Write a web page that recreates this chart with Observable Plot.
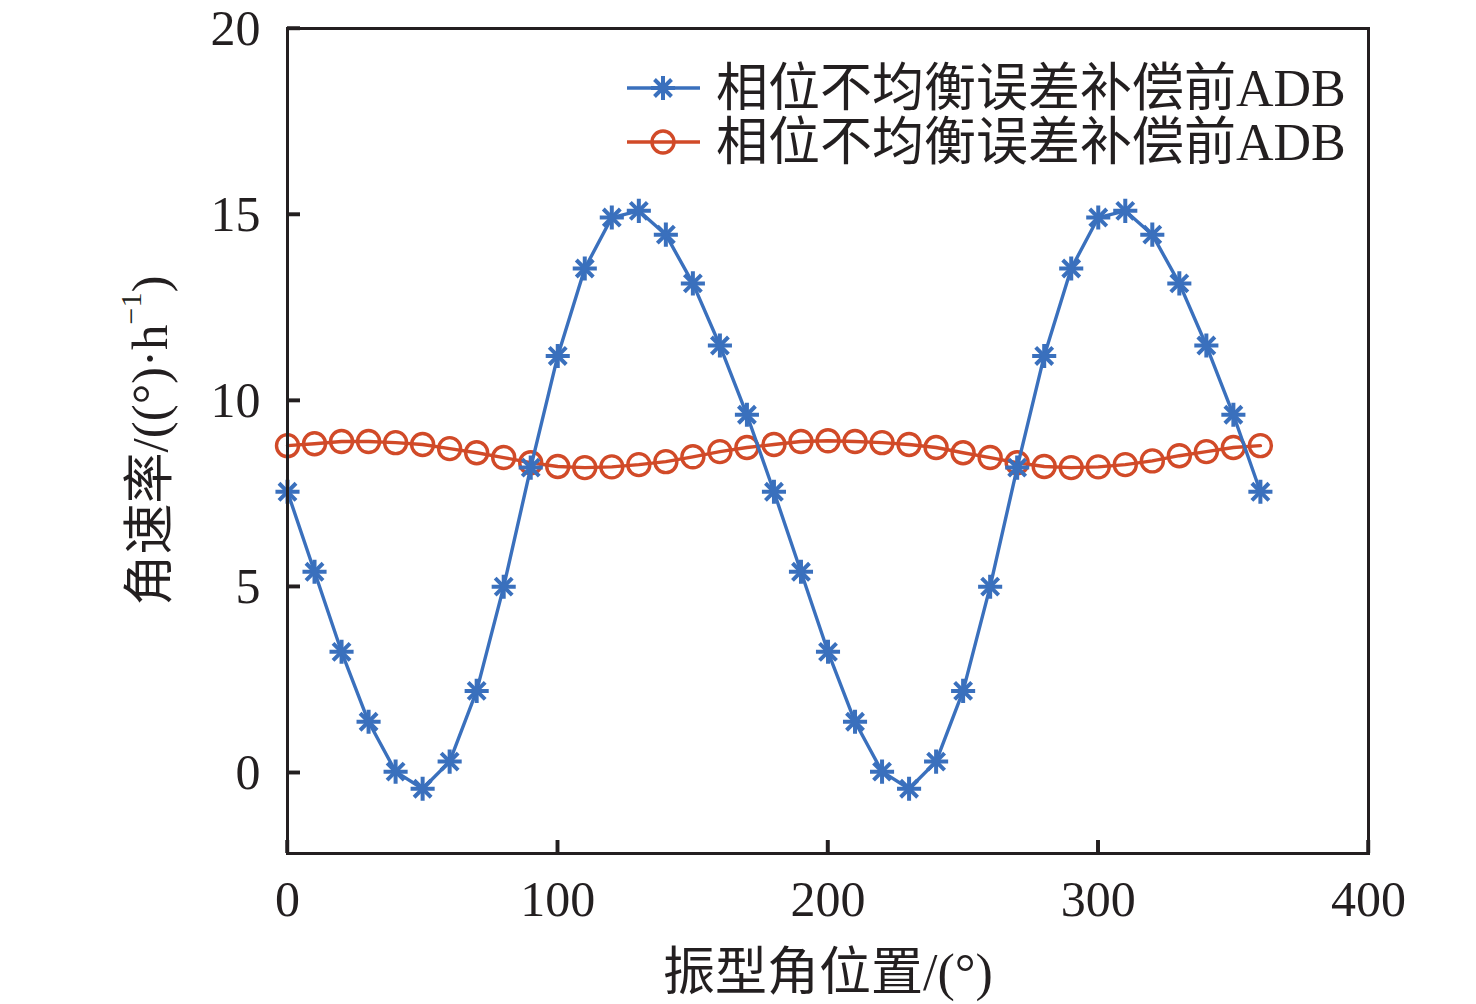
<!DOCTYPE html>
<html>
<head>
<meta charset="utf-8">
<script src="https://cdn.jsdelivr.net/npm/d3@7"></script>
<script src="https://cdn.jsdelivr.net/npm/@observablehq/plot@0.6"></script>
<style>
  html, body { margin: 0; padding: 0; background: #fff; }
  #chart { position: relative; width: 1476px; height: 1004px; }
</style>
</head>
<body>
<div id="chart"></div>
<script>
// ---- data ----
const angles = d3.range(0, 361, 10); // 振型角位置 (°)
const seriesBefore = [7.55, 5.4, 3.25, 1.37, 0.03, -0.43, 0.3, 2.2, 5.0, 8.2,
  11.2, 13.55, 14.92, 15.1, 14.46, 13.15, 11.48, 9.62, 7.55, 5.4,
  3.25, 1.37, 0.03, -0.43, 0.3, 2.2, 5.0, 8.2, 11.2, 13.55,
  14.92, 15.1, 14.46, 13.15, 11.48, 9.62, 7.55];
const seriesAfter = [8.79, 8.84, 8.9, 8.9, 8.87, 8.82, 8.71, 8.6, 8.47, 8.33,
  8.23, 8.2, 8.22, 8.28, 8.36, 8.49, 8.63, 8.74, 8.82, 8.9,
  8.92, 8.9, 8.87, 8.82, 8.74, 8.6, 8.47, 8.33, 8.23, 8.2,
  8.22, 8.28, 8.38, 8.52, 8.63, 8.74, 8.79];
const legendLabels = ["相位不均衡误差补偿前ADB", "相位不均衡误差补偿前ADB"];
const xTicks = [0, 100, 200, 300, 400];
const yTicks = [0, 5, 10, 15, 20];
const xLabel = "振型角位置/(°)";

const blue = "#3a70bd";
const red = "#d14a28";
const ink = "#231f20";

const dataBefore = angles.map((a, i) => ({x: a, y: seriesBefore[i]}));
const dataAfter = angles.map((a, i) => ({x: a, y: seriesAfter[i]}));

const fontFamily = '"Liberation Serif", "Noto Sans CJK SC", serif';
const W = 1476, H = 1004;
const mTop = 28, mBottom = 151, mLeft = 287, mRight = 108;
const xDomain = [0, 400], yDomain = [-2.17, 20];
const tickLen = 13;
// tick length expressed in data units so the rules go through Plot's scales
const yPerPx = (yDomain[1] - yDomain[0]) / (H - mTop - mBottom);
const xPerPx = (xDomain[1] - xDomain[0]) / (W - mLeft - mRight);

const chart = Plot.plot({
  width: W,
  height: H,
  marginLeft: mLeft,
  marginRight: mRight,
  marginTop: mTop,
  marginBottom: mBottom,
  style: {fontFamily, fontSize: "50px", color: ink, background: "#fff"},
  x: {domain: xDomain},
  y: {domain: yDomain},
  marks: [
    Plot.line(dataAfter, {x: "x", y: "y", stroke: red, strokeWidth: 3.4}),
    Plot.dot(dataAfter, {x: "x", y: "y", r: 11, stroke: red, strokeWidth: 3.4, fill: "none"}),
    Plot.line(dataBefore, {x: "x", y: "y", stroke: blue, strokeWidth: 3.4}),
    Plot.dot(dataBefore, {x: "x", y: "y", r: 7.8, symbol: "plus", stroke: blue, strokeWidth: 4}),
    Plot.dot(dataBefore, {x: "x", y: "y", r: 7.8, symbol: "times", stroke: blue, strokeWidth: 4}),
    Plot.frame({stroke: ink, strokeWidth: 3}),
    // inward tick marks
    Plot.ruleX(xTicks, {x: d => d, y1: yDomain[0], y2: yDomain[0] + tickLen * yPerPx, stroke: ink, strokeWidth: 3.4}),
    Plot.ruleY(yTicks, {y: d => d, x1: xDomain[0], x2: xDomain[0] + tickLen * xPerPx, stroke: ink, strokeWidth: 3.4}),
    // tick labels
    Plot.axisX({ticks: xTicks, tickSize: 0, tickPadding: 27, fill: ink, label: null, tickFormat: d => String(d)}),
    Plot.axisY({ticks: yTicks, tickSize: 0, tickPadding: 27, fill: ink, label: null, tickFormat: d => String(d)}),
    Plot.axisX({ticks: [], fontSize: 52, label: xLabel, labelAnchor: "center", labelArrow: "none", labelOffset: 136})
  ]
});

document.getElementById("chart").appendChild(chart);

const svg = d3.select(chart);
const sx = chart.scale("x"), sy = chart.scale("y");

// extra tick marks as filled rects, placed through Plot's scales
const tg = svg.append("g").attr("fill", ink);
xTicks.forEach(t => {
  const px = sx.apply(t);
  tg.append("rect").attr("x", px - 1.7).attr("y", H - mBottom - tickLen)
    .attr("width", 3.4).attr("height", tickLen).style("fill", ink);
});
yTicks.forEach(t => {
  const py = sy.apply(t);
  tg.append("rect").attr("x", mLeft).attr("y", py - 1.7)
    .attr("width", tickLen).attr("height", 3.4).style("fill", ink);
});

// y-axis title with superscript
const yt = svg.append("text")
  .attr("transform", `translate(150,${(mTop + H - mBottom) / 2}) rotate(-90)`)
  .attr("text-anchor", "middle")
  .attr("dominant-baseline", "central")
  .attr("font-family", fontFamily)
  .attr("font-size", 51)
  .attr("fill", ink);
yt.append("tspan").text("角速率/((°)·h");
yt.append("tspan").attr("font-size", 30).attr("dy", -20).text("−1");
yt.append("tspan").attr("dy", 20).text(")");

// legend
const legend = svg.append("g").attr("font-family", fontFamily).attr("font-size", 52)
  .attr("fill", ink).attr("text-anchor", "start");
const legendItems = [
  {label: legendLabels[0], color: blue, symbols: [d3.symbolPlus, d3.symbolTimes], r: 7.8, sw: 4, y: 88},
  {label: legendLabels[1], color: red, symbols: [d3.symbolCircle], r: 11, sw: 3.4, y: 142}
];
legendItems.forEach(item => {
  legend.append("line").attr("x1", 627).attr("x2", 700).attr("y1", item.y).attr("y2", item.y)
    .attr("stroke", item.color).attr("stroke-width", 3.4);
  item.symbols.forEach(sym => {
    legend.append("path").attr("d", d3.symbol(sym, Math.PI * item.r * item.r)())
      .attr("transform", `translate(663,${item.y})`)
      .attr("fill", "none").attr("stroke", item.color).attr("stroke-width", item.sw);
  });
  legend.append("text").attr("x", 716).attr("y", item.y).attr("dominant-baseline", "central")
    .attr("text-anchor", "start")
    .text(item.label);
});
</script>
</body>
</html>
